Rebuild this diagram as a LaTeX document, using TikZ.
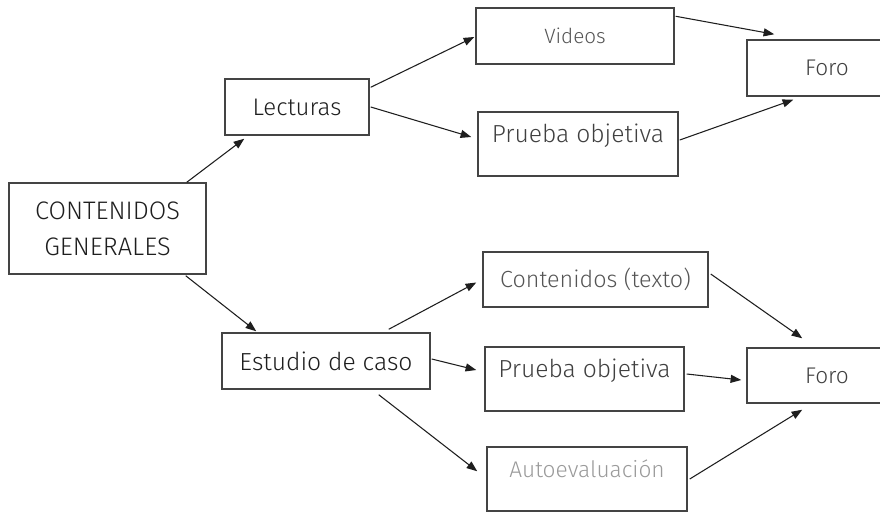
\documentclass[tikz,border=0pt]{standalone}
\usepackage{fontspec}
\setmainfont{Fira Sans Light}
\usetikzlibrary{arrows.meta}
\definecolor{ink}{HTML}{1E1E1E}
\definecolor{edge}{HTML}{444444}
\definecolor{midgray}{HTML}{555555}
\definecolor{lightgray}{HTML}{9A9A9A}

\begin{document}
\begin{tikzpicture}[x=0.75pt, y=-0.75pt,
    box/.style={draw=edge, line width=1.1pt, inner sep=2pt, align=center},
    hi/.style={text height=10pt, text depth=13pt},
    link/.style={draw=ink, line width=0.8pt, -{Triangle[length=8pt,width=6pt]}}]
    \useasboundingbox (0,0) rectangle (880,511);
    \clip (0,0) rectangle (880,511);
    % first branch
    \node[box, minimum width=147.75pt, minimum height=68.25pt, text=ink, font=\fontsize{19}{27}\selectfont] (gen) at (107.5,228.5) {CONTENIDOS\\GENERALES};
    \node[box, minimum width=108pt, minimum height=42pt, text=ink, font=\fontsize{18}{22}\selectfont] (lect) at (297,107) {Lecturas};
    \node[box, minimum width=148.5pt, minimum height=42pt, text=midgray, font=\fontsize{15.5}{18}\selectfont] (vid) at (575,36) {Videos};
    \node[box, hi, minimum width=150pt, minimum height=48pt, text=ink!85, font=\fontsize{18.5}{21}\selectfont] (pruebaA) at (578,144) {Prueba objetiva};
    \node[box, minimum width=120pt, minimum height=42pt, text=ink!85, font=\fontsize{17}{20}\selectfont] (foroA) at (827,68) {Foro};
    % second branch
    \node[box, minimum width=156pt, minimum height=42pt, text=ink, font=\fontsize{18.5}{22}\selectfont] (est) at (326,361) {Estudio de caso};
    \node[box, minimum width=168.75pt, minimum height=41.25pt, text=midgray, font=\fontsize{17.5}{20}\selectfont] (cont) at (595.5,279.5) {Contenidos (texto)};
    \node[box, hi, minimum width=149.25pt, minimum height=48pt, text=ink!85, font=\fontsize{18.5}{21}\selectfont] (pruebaB) at (584.5,379) {Prueba objetiva};
    \node[box, hi, minimum width=150pt, minimum height=48pt, text=lightgray, font=\fontsize{17}{20}\selectfont] (auto) at (587,479) {Autoevaluación};
    \node[box, minimum width=120pt, minimum height=41.25pt, text=ink!85, font=\fontsize{17}{20}\selectfont] (foroB) at (827,375.5) {Foro};

    \draw[link] ([shift={(-20,0)}]gen.north east) -- ([shift={(20,3)}]lect.south west);
    \draw[link] ([shift={(-21,1)}]gen.south east) -- ([shift={(35,-1)}]est.north west);
    \draw[link] ([shift={(1,9)}]lect.north east) -- ([shift={(-1,1)}]vid.west);
    \draw[link] ([shift={(1,0)}]lect.east) -- ([shift={(-6,-7)}]pruebaA.west);
    \draw[link] ([shift={(1,9)}]vid.north east) -- ([shift={(28,-5)}]foroA.north west);
    \draw[link] ([shift={(1,-4)}]pruebaA.east) -- ([shift={(47,3)}]foroA.south west);
    \draw[link] ([shift={(-42,-3)}]est.north east) -- ([shift={(-6,3)}]cont.west);
    \draw[link] ([shift={(1,-2)}]est.east) -- ([shift={(-8,-9)}]pruebaB.west);
    \draw[link] ([shift={(-52,5)}]est.south east) -- ([shift={(-9,25)}]auto.north west);
    \draw[link] ([shift={(2,-5.5)}]cont.east) -- ([shift={(56,-9)}]foroB.north west);
    \draw[link] ([shift={(2,-5)}]pruebaB.east) -- ([shift={(-5,4.5)}]foroB.west);
    \draw[link] ([shift={(2,0)}]auto.east) -- ([shift={(56,6)}]foroB.south west);
\end{tikzpicture}
\end{document}
